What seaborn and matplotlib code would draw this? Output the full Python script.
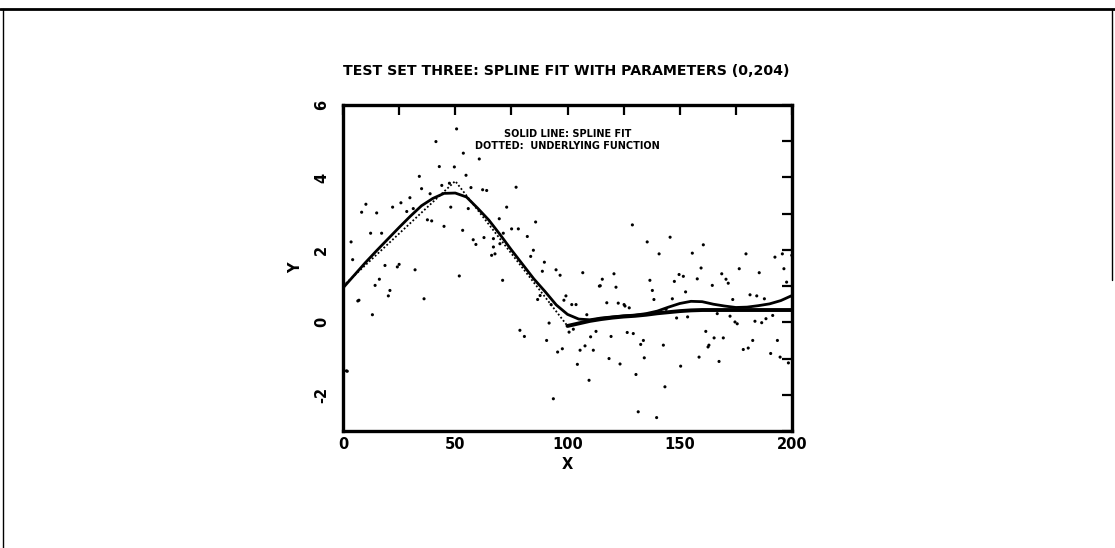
import numpy as np
import pandas as pd
import matplotlib
matplotlib.use("Agg")
import matplotlib.pyplot as plt
import seaborn as sns
from matplotlib.ticker import MultipleLocator
from matplotlib.lines import Line2D

# ---------------- data ----------------
obs_x = [50.6, 41.4, 53.6, 60.7, 42.9, 49.6, 54.8, 34.0, 47.4, 44.0, 35.0, 57.0, 62.2, 64.0,
         38.8, 29.8, 25.8, 10.2, 22.1, 31.3, 28.4, 15.0, 8.3, 48.0, 55.8, 37.6, 39.5, 45.0,
         53.3, 12.3, 17.2, 58.0, 59.2, 62.8, 67.0, 3.6, 66.2, 18.7, 25.0, 4.3, 24.2, 32.1,
         51.8, 16.2, 14.3, 20.9, 20.2, 36.1, 7.1, 13.1, 1.9, 77.1, 72.9, 69.6, 85.8, 75.1,
         78.1, 128.9, 82.1, 71.4, 67.0, 84.8, 83.6, 89.7, 94.9, 67.7, 69.9, 71.1, 88.8, 96.7,
         106.8, 120.7, 115.5, 114.2, 114.6, 121.6, 87.8, 99.3, 98.4, 86.7, 117.5, 122.6, 125.2,
         125.6, 127.5, 101.9, 103.8, 92.7, 108.6, 91.8, 78.8, 80.8, 100.7, 102.6, 112.7, 110.3,
         119.4, 126.6, 129.3, 133.8, 132.6, 90.7, 107.8, 97.7, 95.6, 105.6, 111.5, 118.5, 134.2,
         104.4, 123.4, 130.5, 109.6, 93.7, 131.5, 145.7, 135.5, 160.5, 140.8, 155.6, 179.5,
         192.4, 195.7, 199.9, 159.5, 176.5, 196.4, 149.7, 151.6, 168.7, 185.4, 136.7, 147.6,
         157.8, 170.6, 171.6, 197.6, 164.5, 137.8, 152.6, 181.3, 184.3, 138.5, 146.7, 173.6,
         187.7, 143.9, 166.7, 148.6, 153.5, 172.4, 174.6, 175.6, 183.5, 186.5, 188.4, 191.4,
         161.6, 165.3, 169.4, 163.0, 162.6, 182.5, 193.5, 142.7, 180.5, 178.3, 190.5, 158.6,
         194.7, 167.5, 198.4, 150.4, 143.4, 139.7, 6.6, 1.5]
obs_y = [5.34, 4.99, 4.67, 4.51, 4.30, 4.29, 4.06, 4.03, 3.84, 3.78, 3.69, 3.72, 3.66, 3.64,
         3.55, 3.44, 3.30, 3.26, 3.18, 3.14, 3.06, 3.02, 3.04, 3.18, 3.14, 2.83, 2.80, 2.65,
         2.54, 2.46, 2.46, 2.28, 2.15, 2.34, 2.31, 2.22, 1.85, 1.57, 1.60, 1.73, 1.53, 1.45,
         1.28, 1.19, 1.02, 0.88, 0.73, 0.65, 0.61, 0.21, -1.35, 3.73, 3.18, 2.86, 2.77, 2.58,
         2.58, 2.69, 2.37, 2.46, 2.08, 1.99, 1.82, 1.66, 1.45, 1.89, 2.17, 1.16, 1.41, 1.30,
         1.37, 1.34, 1.19, 1.00, 1.01, 0.97, 0.74, 0.73, 0.61, 0.63, 0.54, 0.53, 0.49,
         0.45, 0.40, 0.49, 0.49, 0.49, 0.21, -0.02, -0.22, -0.39, -0.27, -0.19, -0.25, -0.40,
         -0.39, -0.28, -0.31, -0.50, -0.61, -0.50, -0.65, -0.73, -0.82, -0.77, -0.77, -1.00, -0.98,
         -1.16, -1.15, -1.44, -1.60, -2.11, -2.47, 2.35, 2.22, 2.14, 1.89, 1.91, 1.89,
         1.80, 1.89, 1.85, 1.50, 1.48, 1.48, 1.32, 1.27, 1.34, 1.37, 1.16, 1.13,
         1.20, 1.19, 1.08, 1.11, 1.02, 0.88, 0.84, 0.76, 0.73, 0.63, 0.65, 0.63,
         0.65, 0.36, 0.24, 0.12, 0.15, 0.17, 0.01, -0.04, 0.03, -0.01, 0.10, 0.19,
         -0.25, -0.43, -0.43, -0.63, -0.68, -0.50, -0.50, -0.63, -0.71, -0.75, -0.86, -0.96,
         -0.96, -1.08, -1.12, -1.21, -1.78, -2.63, 0.59, -1.34]

fit_x = [0, 5, 10, 15, 20, 25, 30, 35, 40, 45, 50, 55, 60, 65, 70, 75, 80, 85, 90, 95, 100,
         105, 110, 115, 120, 125, 130, 135, 140, 145, 150, 155, 160, 165, 170, 175, 180, 185,
         190, 195, 200]
fit_y = [0.95, 1.30, 1.65, 1.98, 2.30, 2.62, 2.93, 3.22, 3.42, 3.56, 3.57, 3.46, 3.15, 2.82,
         2.42, 2.00, 1.60, 1.20, 0.85, 0.48, 0.22, 0.09, 0.07, 0.12, 0.15, 0.18, 0.20, 0.24,
         0.31, 0.42, 0.52, 0.58, 0.57, 0.50, 0.45, 0.41, 0.42, 0.46, 0.51, 0.60, 0.74]

true_x = [0, 50, 100, 105, 110, 115, 120, 125, 130, 135, 140, 145, 150, 155, 160, 170, 180,
          190, 200]
true_y = [1.00, 3.90, -0.10, -0.03, 0.04, 0.09, 0.13, 0.16, 0.18, 0.21, 0.25, 0.28, 0.31,
          0.33, 0.34, 0.34, 0.34, 0.34, 0.34]

title = "TEST SET THREE: SPLINE FIT WITH PARAMETERS (0,204)"
note1 = "SOLID LINE: SPLINE FIT"
note2 = "DOTTED:  UNDERLYING FUNCTION"
x_ticks = [0, 50, 100, 150, 200]
y_ticks = [-2, 0, 2, 4, 6]

# ---------------- figure ----------------
sns.set_style("white")
plt.rcParams['font.family'] = ['DejaVu Sans']
plt.rcParams.update({
    'font.weight': 'bold',
    'text.color': 'black',
    'axes.labelcolor': 'black',
    'xtick.color': 'black',
    'ytick.color': 'black',
    'axes.edgecolor': 'black',
})

fig = plt.figure(figsize=(11.15, 5.48), dpi=100)
ax = fig.add_axes([343 / 1115, 1 - 431 / 548, 449 / 1115, 326 / 548])

obs = pd.DataFrame({"x": obs_x, "y": obs_y})
fit = pd.DataFrame({"x": fit_x, "y": fit_y})
tru = pd.DataFrame({"x": true_x, "y": true_y})

sns.scatterplot(data=obs, x="x", y="y", ax=ax, s=5, color="black", edgecolor="none",
                marker="o", zorder=3)
sns.lineplot(data=tru, x="x", y="y", ax=ax, color="black", lw=1.3,
             linestyle=(0, (1, 1.2)), zorder=2)
sns.lineplot(data=tru[tru["x"] >= 100], x="x", y="y", ax=ax, color="black", lw=2.8, zorder=2)
sns.lineplot(data=fit, x="x", y="y", ax=ax, color="black", lw=2.0, zorder=4)

ax.set_xlim(0, 200)
ax.set_ylim(-3, 6)
ax.xaxis.set_major_locator(MultipleLocator(25))
ax.yaxis.set_major_locator(MultipleLocator(1))
ax.set_xticklabels([str(int(v)) if v in x_ticks else "" for v in ax.get_xticks()])
ax.set_yticklabels([str(int(v)) if v in y_ticks else "" for v in ax.get_yticks()])
ax.set_xlim(0, 200)
ax.set_ylim(-3, 6)
ax.tick_params(axis="both", direction="in", length=7, width=1.6, top=True, right=True,
               labelsize=10.5, colors="black")
ax.tick_params(axis="x", pad=4)
ax.tick_params(axis="y", pad=10)
for lab in ax.get_yticklabels():
    lab.set_rotation(90)
    lab.set_va("center")
    lab.set_fontweight("bold")
for lab in ax.get_xticklabels():
    lab.set_fontweight("bold")
for sp in ax.spines.values():
    sp.set_linewidth(2.4)
    sp.set_color("black")

ax.set_xlabel("X", fontsize=10.5, fontweight="bold", labelpad=4, color="black")
ax.set_ylabel("Y", fontsize=10.5, fontweight="bold", labelpad=8, color="black")

ax.text(100, 5.21, note1, ha="center", va="center", fontsize=7, fontweight="bold",
        color="black")
ax.text(100, 4.88, note2, ha="center", va="center", fontsize=7, fontweight="bold",
        color="black")

fig.text(566 / 1115, 1 - 71 / 548, title, ha="center", va="center", fontsize=10.2,
         fontweight="bold", color="black")

# page border of the scanned sheet
fig.add_artist(Line2D([0, 1], [1 - 9 / 548, 1 - 9 / 548], transform=fig.transFigure,
                      color="black", lw=2))
fig.add_artist(Line2D([3 / 1115, 3 / 1115], [0, 1 - 9 / 548], transform=fig.transFigure,
                      color="black", lw=1))
fig.add_artist(Line2D([1112 / 1115, 1112 / 1115], [1 - 280 / 548, 1 - 9 / 548],
                      transform=fig.transFigure, color="black", lw=1))

fig.savefig("out.png", dpi=100, facecolor="white")
